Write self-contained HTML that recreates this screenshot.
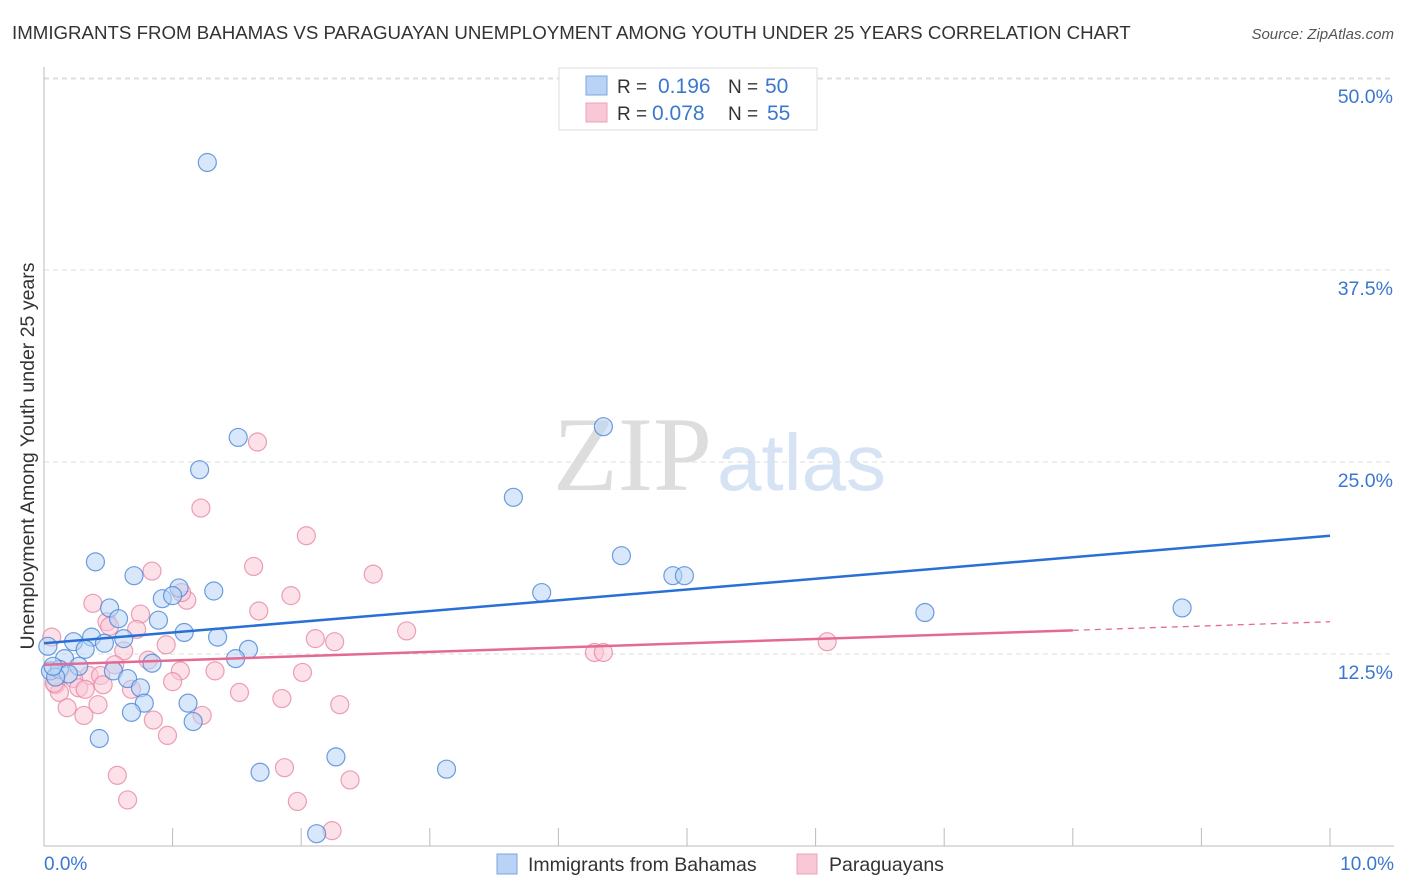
<!DOCTYPE html>
<html><head><meta charset="utf-8"><style>
body{margin:0;background:#fff;font-family:"Liberation Sans",sans-serif;}
svg{display:block}
</style></head><body>
<svg id="chart" width="1406" height="892" xmlns="http://www.w3.org/2000/svg">
<text x="12" y="39" font-size="18.7" fill="#333">IMMIGRANTS FROM BAHAMAS VS PARAGUAYAN UNEMPLOYMENT AMONG YOUTH UNDER 25 YEARS CORRELATION CHART</text>
<text x="1394" y="39" font-size="15" fill="#555" text-anchor="end" font-style="italic">Source: ZipAtlas.com</text>
<text x="553" y="490" font-size="106" fill="#ddd" font-family="Liberation Serif, serif">ZIP</text>
<text x="717" y="490" font-size="80" fill="#d5e3f5">atlas</text>
<g id="grid"></g>
<g id="axes"></g>
<g id="pts"></g>
<g id="trends"></g>
<text transform="translate(34,456) rotate(-90)" font-size="19.5" fill="#333" text-anchor="middle">Unemployment Among Youth under 25 years</text>
<text x="44" y="870" font-size="19" fill="#3a78d0">0.0%</text>
<text x="1394" y="870" font-size="19" fill="#3a78d0" text-anchor="end">10.0%</text>
<g>
<rect x="559" y="68" width="258" height="62" fill="#fff" stroke="#ddd"/>
<rect x="586" y="76" width="21" height="19" fill="#b8d3f4" stroke="#7aa7e0"/>
<rect x="586" y="103" width="21" height="19" fill="#f9c8d6" stroke="#eea0b8"/>
<text x="617" y="93" font-size="19" fill="#333">R = </text><text x="658" y="93" font-size="21" fill="#3a78d0">0.196</text>
<text x="728" y="93" font-size="19" fill="#333">N = </text><text x="765" y="93" font-size="21" fill="#3a78d0">50</text>
<text x="617" y="120" font-size="19" fill="#333">R = </text><text x="652" y="120" font-size="21" fill="#3a78d0">0.078</text>
<text x="728" y="120" font-size="19" fill="#333">N = </text><text x="767" y="120" font-size="21" fill="#3a78d0">55</text>
</g>
<g>
<rect x="497" y="854" width="20" height="20" fill="#b8d3f4" stroke="#7aa7e0"/>
<text x="528" y="871" font-size="19.5" fill="#333">Immigrants from Bahamas</text>
<rect x="797" y="854" width="20" height="20" fill="#f9c8d6" stroke="#eea0b8"/>
<text x="829" y="871" font-size="19.5" fill="#333">Paraguayans</text>
</g>
</svg>
<script>
const yTicks=[12.5,25,37.5,50];
const yTickLabels=["12.5%","25.0%","37.5%","50.0%"];
const xTicks=[0,1,2,3,4,5,6,7,8,9,10];
const blueX=[1.27,1.51,4.35,1.21,3.65,0.40,4.49,0.70,4.89,4.98,1.05,1.32,3.87,0.92,1.00,0.51,8.85,6.85,0.89,0.58,1.09,0.37,0.62,0.23,0.47,1.35,0.32,1.59,0.16,1.49,0.84,0.27,0.05,0.12,0.54,0.19,0.09,0.65,0.75,1.12,0.78,0.68,1.16,0.43,2.27,3.13,1.68,2.12,0.07,0.03];
const blueY=[44.5,26.6,27.3,24.5,22.7,18.5,18.9,17.6,17.6,17.6,16.8,16.6,16.5,16.1,16.3,15.5,15.5,15.2,14.7,14.8,13.9,13.6,13.5,13.3,13.2,13.6,12.8,12.8,12.2,12.2,11.9,11.7,11.4,11.5,11.4,11.2,11.0,10.9,10.3,9.3,9.3,8.7,8.1,7.0,5.8,5.0,4.8,0.8,11.7,13.0];
const pinkX=[1.66,1.22,2.04,0.84,1.63,2.56,0.38,1.92,1.11,0.75,0.49,1.67,0.72,2.11,2.82,6.09,2.26,0.95,0.62,4.28,4.35,0.81,0.06,0.55,1.06,2.01,1.33,0.35,0.23,0.44,0.27,0.09,0.12,0.68,1.00,0.46,1.52,1.85,2.30,0.42,0.18,1.23,0.31,0.85,0.96,0.57,1.87,0.65,1.97,2.38,2.24,0.08,0.32,1.07,0.51];
const pinkY=[26.3,22.0,20.2,17.9,18.2,17.7,15.8,16.3,16.0,15.1,14.6,15.3,14.1,13.5,14.0,13.3,13.3,13.1,12.7,12.6,12.6,12.1,13.6,11.8,11.4,11.3,11.4,11.1,10.9,11.1,10.3,10.5,10.0,10.2,10.7,10.5,10.0,9.6,9.2,9.2,9.0,8.5,8.5,8.2,7.2,4.6,5.1,3.0,2.9,4.3,1.0,10.6,10.2,16.5,14.3];
const trendBlue=[13.2,20.2];
const trendPink=[11.8,14.6];
const pinkSolidEnd=8.0;
const NS="http://www.w3.org/2000/svg";
const X=v=>44+v*128.6, Y=v=>846-v*15.36;
function mk(t,a,p){const e=document.createElementNS(NS,t);for(const k in a)e.setAttribute(k,a[k]);p.appendChild(e);return e;}
const gridG=document.getElementById('grid'),axesG=document.getElementById('axes'),ptsG=document.getElementById('pts'),trG=document.getElementById('trends');
yTicks.forEach((t,i)=>{
 const l=mk('line',{x1:44,x2:1394,y1:Y(t),y2:Y(t),stroke:'#ddd','stroke-dasharray':'5,4'},gridG);
 
 
 const tx=mk('text',{x:1393,y:Y(t)+25,'font-size':19.5,fill:'#3a78d0','text-anchor':'end'},gridG);
 tx.textContent=yTickLabels[i];
 
 
});
const topLine=mk('line',{x1:44,x2:1394,y1:79,y2:79,stroke:'#ddd','stroke-dasharray':'5,4'},gridG);


const ya=mk('line',{x1:44,x2:44,y1:67,y2:846,stroke:'#bbb'},axesG);


const xa=mk('line',{x1:44,x2:1394,y1:846,y2:846,stroke:'#bbb'},axesG);


xTicks.forEach(t=>{const l=mk('line',{x1:X(t),x2:X(t),y1:828,y2:846,stroke:'#bbb'},axesG);
 
 });
function dots(xs,ys,fill,stroke,name){xs.forEach((x,i)=>{const c=mk('circle',{cx:X(x),cy:Y(ys[i]),r:9,fill:fill,'fill-opacity':0.55,stroke:stroke,'stroke-width':1.2,'stroke-opacity':0.8},ptsG);
 
 });}
dots(pinkX,pinkY,'#f9c8d6','#e987a6','paraguayans-point');
dots(blueX,blueY,'#b8d3f4','#4a86d8','bahamas-point');
const tb=mk('line',{x1:X(0),y1:Y(trendBlue[0]),x2:X(10),y2:Y(trendBlue[1]),stroke:'#2a6fd6','stroke-width':2.5},trG);


const py=x=>trendPink[0]+(trendPink[1]-trendPink[0])*x/10;
const tp=mk('line',{x1:X(0),y1:Y(py(0)),x2:X(pinkSolidEnd),y2:Y(py(pinkSolidEnd)),stroke:'#e46a93','stroke-width':2.5},trG);


const td=mk('line',{x1:X(pinkSolidEnd),y1:Y(py(pinkSolidEnd)),x2:X(10),y2:Y(py(10)),stroke:'#e46a93','stroke-width':1.3,'stroke-dasharray':'6,5'},trG);


</script>
</body></html>
